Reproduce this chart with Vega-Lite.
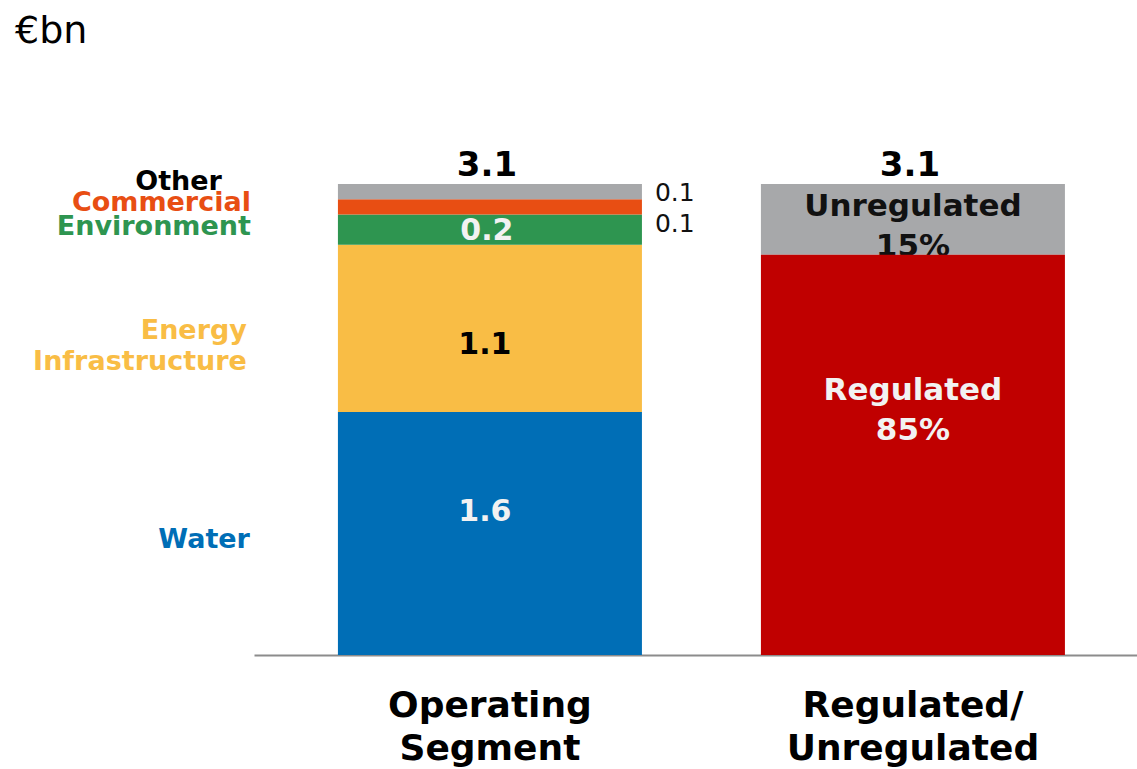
{
  "$schema": "https://vega.github.io/schema/vega-lite/v6.json",
  "width": 883,
  "height": 471,
  "autosize": {"type": "none"},
  "padding": {"left": 254, "top": 184, "right": 0, "bottom": 114},
  "background": "white",
  "config": {"view": {"stroke": null}, "font": "DejaVu Sans", "text": {"font": "DejaVu Sans"}},
  "title": {"text": "€bn", "anchor": "start", "frame": "group", "fontSize": 38, "fontWeight": "normal", "font": "DejaVu Sans", "color": "#000000", "dx": -239, "offset": 0, "dy": -98},
  "data": {"values": [
    {"bar": "Operating Segment", "cat": "Water", "value": 1.6, "order": 1, "label": "1.6"},
    {"bar": "Operating Segment", "cat": "Energy Infrastructure", "value": 1.1, "order": 2, "label": "1.1"},
    {"bar": "Operating Segment", "cat": "Environment", "value": 0.2, "order": 3, "label": "0.2"},
    {"bar": "Operating Segment", "cat": "Commercial", "value": 0.1, "order": 4, "label": "0.1"},
    {"bar": "Operating Segment", "cat": "Other", "value": 0.1, "order": 5, "label": "0.1"},
    {"bar": "Regulated/Unregulated", "cat": "Regulated", "value": 2.635, "order": 1, "label": "Regulated\n85%"},
    {"bar": "Regulated/Unregulated", "cat": "Unregulated", "value": 0.465, "order": 2, "label": "Unregulated\n15%"}
  ]},
  "transform": [
    {"stack": "value", "groupby": ["bar"], "sort": [{"field": "order"}], "as": ["v0", "v1"]},
    {"calculate": "(datum.v0 + datum.v1) / 2", "as": "mid"}
  ],
  "encoding": {
    "x": {
      "field": "bar", "type": "nominal", "sort": ["Operating Segment", "Regulated/Unregulated"],
      "scale": {"paddingInner": 0.2813, "paddingOuter": 0.1844, "align": 0.538},
      "axis": {
        "title": null, "labelAngle": 0, "ticks": false, "tickSize": 0,
        "domainColor": "#8c8c8c", "domainWidth": 2,
        "labelFont": "DejaVu Sans", "labelFontSize": 36, "labelFontWeight": "bold", "labelColor": "#000000",
        "labelPadding": 33, "labelLineHeight": 43, "labelLimit": 500,
        "labelExpr": "datum.value == 'Operating Segment' ? ['Operating', 'Segment'] : ['Regulated/', 'Unregulated']"
      }
    }
  },
  "layer": [
    {
      "transform": [{"filter": "datum.cat != 'Regulated'"}],
      "mark": {"type": "bar"},
      "encoding": {
        "y": {"field": "v1", "type": "quantitative", "scale": {"domain": [0, 3.1], "nice": false}, "axis": null},
        "y2": {"field": "v0"},
        "color": {"field": "cat", "type": "nominal", "legend": null,
          "scale": {"domain": ["Water", "Energy Infrastructure", "Environment", "Commercial", "Other", "Regulated", "Unregulated"],
                    "range": ["#006EB6", "#F9BD45", "#2E9550", "#E84E13", "#A7A8AA", "#C00000", "#A7A8AA"]}}
      }
    },
    {
      "transform": [{"filter": "datum.cat == 'Unregulated'"}],
      "mark": {"type": "text", "fontSize": 31, "fontWeight": "bold", "color": "#111111", "lineBreak": "\n", "lineHeight": 40, "baseline": "middle", "dy": -12},
      "encoding": {"y": {"field": "mid", "type": "quantitative"}, "text": {"field": "label"}}
    },
    {
      "transform": [{"filter": "datum.cat == 'Regulated'"}],
      "mark": {"type": "bar"},
      "encoding": {
        "y": {"field": "v1", "type": "quantitative"},
        "y2": {"field": "v0"},
        "color": {"field": "cat", "type": "nominal", "legend": null}
      }
    },
    {
      "transform": [{"filter": "datum.cat == 'Water'"}],
      "mark": {"type": "text", "fontSize": 30, "fontWeight": "bold", "color": "#F2F2F2", "baseline": "middle", "dy": -21, "dx": -5},
      "encoding": {"y": {"field": "mid", "type": "quantitative"}, "text": {"field": "label"}}
    },
    {
      "transform": [{"filter": "datum.cat == 'Energy Infrastructure'"}],
      "mark": {"type": "text", "fontSize": 30, "fontWeight": "bold", "color": "#000000", "baseline": "middle", "dy": 17, "dx": -5},
      "encoding": {"y": {"field": "mid", "type": "quantitative"}, "text": {"field": "label"}}
    },
    {
      "transform": [{"filter": "datum.cat == 'Environment'"}],
      "mark": {"type": "text", "fontSize": 30, "fontWeight": "bold", "color": "#F2F2F2", "baseline": "middle", "dy": 1.5, "dx": -3},
      "encoding": {"y": {"field": "mid", "type": "quantitative"}, "text": {"field": "label"}}
    },
    {
      "transform": [{"filter": "datum.cat == 'Regulated'"}],
      "mark": {"type": "text", "fontSize": 31, "fontWeight": "bold", "color": "#F2F2F2", "lineBreak": "\n", "lineHeight": 40, "baseline": "middle", "dy": -64},
      "encoding": {"y": {"field": "mid", "type": "quantitative"}, "text": {"field": "label"}}
    },
    {
      "transform": [{"filter": "datum.cat == 'Other'"}],
      "mark": {"type": "text", "fontSize": 25, "fontWeight": "normal", "color": "#111111", "baseline": "middle", "align": "left", "dx": 165, "dy": 1},
      "encoding": {"y": {"field": "mid", "type": "quantitative"}, "text": {"field": "label"}}
    },
    {
      "transform": [{"filter": "datum.cat == 'Commercial'"}],
      "mark": {"type": "text", "fontSize": 25, "fontWeight": "normal", "color": "#111111", "baseline": "middle", "align": "left", "dx": 165, "dy": 17},
      "encoding": {"y": {"field": "mid", "type": "quantitative"}, "text": {"field": "label"}}
    },
    {
      "transform": [{"filter": "datum.cat == 'Water'"}],
      "mark": {"type": "text", "fontSize": 27, "fontWeight": "bold", "color": "#006EB6", "baseline": "middle", "align": "right", "dx": -240, "dy": 6.5},
      "encoding": {"y": {"field": "mid", "type": "quantitative"}, "text": {"field": "cat"}}
    },
    {
      "transform": [{"filter": "datum.cat == 'Energy Infrastructure'"}],
      "mark": {"type": "text", "fontSize": 27, "fontWeight": "bold", "color": "#F9BD45", "baseline": "middle", "align": "right", "dx": -243, "dy": 3, "lineBreak": " ", "lineHeight": 31},
      "encoding": {"y": {"field": "mid", "type": "quantitative"}, "text": {"field": "cat"}}
    },
    {
      "transform": [{"filter": "datum.cat == 'Environment'"}],
      "mark": {"type": "text", "fontSize": 27, "fontWeight": "bold", "color": "#2E9550", "baseline": "middle", "align": "right", "dx": -239, "dy": -3},
      "encoding": {"y": {"field": "mid", "type": "quantitative"}, "text": {"field": "cat"}}
    },
    {
      "transform": [{"filter": "datum.cat == 'Commercial'"}],
      "mark": {"type": "text", "fontSize": 27, "fontWeight": "bold", "color": "#E84E13", "baseline": "middle", "align": "right", "dx": -239, "dy": -3.5},
      "encoding": {"y": {"field": "mid", "type": "quantitative"}, "text": {"field": "cat"}}
    },
    {
      "transform": [{"filter": "datum.cat == 'Other'"}],
      "mark": {"type": "text", "fontSize": 27, "fontWeight": "bold", "color": "#000000", "baseline": "middle", "align": "right", "dx": -268, "dy": -10},
      "encoding": {"y": {"field": "mid", "type": "quantitative"}, "text": {"field": "cat"}}
    },
    {
      "transform": [{"filter": "datum.cat == 'Other' || datum.cat == 'Unregulated'"}],
      "mark": {"type": "text", "fontSize": 34, "fontWeight": "bold", "color": "#000000", "baseline": "bottom", "dy": -1, "dx": -3},
      "encoding": {"y": {"field": "v1", "type": "quantitative"}, "text": {"field": "v1", "type": "quantitative", "format": ".1f"}}
    }
  ]
}
